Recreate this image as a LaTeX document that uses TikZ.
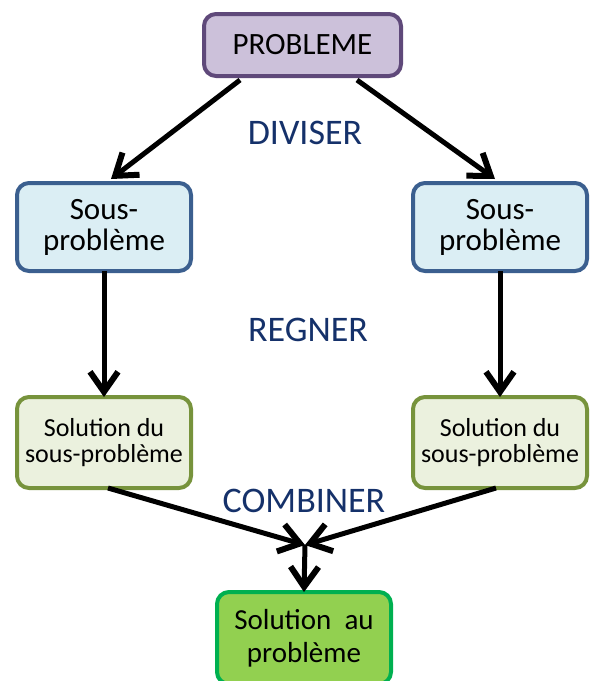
\documentclass[tikz,border=0pt]{standalone}
\usepackage{fontspec}
\setmainfont{Carlito}
\usetikzlibrary{arrows.meta}
\definecolor{probfill}{HTML}{CCC1DA}
\definecolor{probdraw}{HTML}{5F497A}
\definecolor{sousfill}{HTML}{DBEEF4}
\definecolor{sousdraw}{HTML}{3B5F8F}
\definecolor{solfill}{HTML}{EBF1DE}
\definecolor{soldraw}{HTML}{77933C}
\definecolor{finfill}{HTML}{92D050}
\definecolor{findraw}{HTML}{00B050}
\definecolor{lblblue}{HTML}{15316A}
\tikzset{
  box/.style={rounded corners=12pt, line width=4pt, align=center, inner sep=0pt, outer sep=0pt},
  probbox/.style={box, fill=probfill, draw=probdraw, minimum width=197pt, minimum height=62pt, font=\fontsize{31}{33}\selectfont},
  sousbox/.style={box, fill=sousfill, draw=sousdraw, minimum width=174pt, minimum height=88pt, font=\fontsize{31}{31}\selectfont},
  solbox/.style={box, fill=solfill, draw=soldraw, minimum width=174pt, minimum height=91pt, font=\fontsize{26}{26}\selectfont},
  finbox/.style={box, fill=finfill, draw=findraw, minimum width=174pt, minimum height=92pt, font=\fontsize{29}{33}\selectfont},
  lbl/.style={text=lblblue, font=\fontsize{36}{36}\selectfont, inner sep=0pt},
  arr/.style={line width=5pt, -{Straight Barb[length=20pt,width=28pt,line width=6pt 0]}},
}
\begin{document}
\begin{tikzpicture}[x=1pt,y=-1pt]
\useasboundingbox (0,0) rectangle (597,681);
\node[probbox] (prob) at (302.5,45) {PROBLEME};
\node[sousbox] (sousL) at (104,227) {Sous-\\problème};
\node[sousbox] (sousR) at (500,227) {Sous-\\problème};
\node[solbox] (solL) at (104,442.5) {Solution du\\sous-problème};
\node[solbox] (solR) at (500,442.5) {Solution du\\sous-problème};
\node[finbox] (fin) at (304,638) {Solution~~au\\problème};
\node[lbl] (div) at (305,133) {DIVISER};
\node[lbl] (reg) at (308,330) {REGNER};
\node[lbl] (comb) at (304,501) {COMBINER};
\coordinate (pl) at (240,80);
\coordinate (pr) at (357,80);
\coordinate (tl) at (111,179);
\coordinate (tr) at (495,179);
\coordinate (m) at (305,545);
\draw[arr] (pl) -- (tl);
\draw[arr] (pr) -- (tr);
\draw[arr] (sousL.south) -- (solL.north);
\draw[arr] (sousR.south) -- (solR.north);
\draw[arr] ([xshift=4pt]solL.south) -- (m);
\draw[arr] ([xshift=-4pt]solR.south) -- (m);
\draw[arr] (m) -- (fin.north);
\end{tikzpicture}
\end{document}
